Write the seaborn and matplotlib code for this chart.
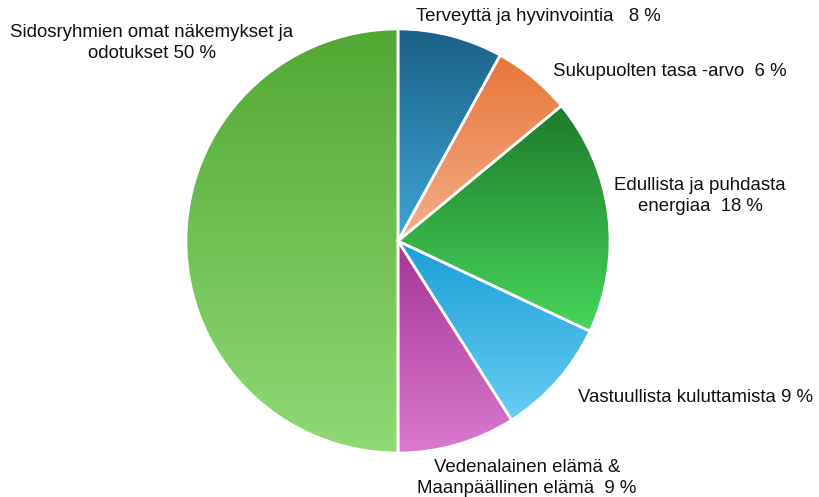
import numpy as np
import seaborn as sns
import matplotlib.pyplot as plt
from matplotlib.colors import LinearSegmentedColormap

# dati della torta
categorie = ["Terveyttä ja hyvinvointia", "Sukupuolten tasa -arvo",
             "Edullista ja puhdasta energiaa", "Vastuullista kuluttamista",
             "Vedenalainen elämä & Maanpäällinen elämä",
             "Sidosryhmien omat näkemykset ja odotukset"]
valori = [8, 6, 18, 9, 9, 50]
etichette = ["Terveyttä ja hyvinvointia   8 %",
             "Sukupuolten tasa -arvo  6 %",
             "Edullista ja puhdasta\nenergiaa  18 %",
             "Vastuullista kuluttamista 9 %",
             "Vedenalainen elämä &\nMaanpäällinen elämä  9 %",
             "Sidosryhmien omat näkemykset ja\nodotukset 50 %"]

# gradienti: colore in alto, colore in basso
colori_alto = ["#1b5f85", "#e8763a", "#1e7a2a", "#1a9fd6", "#a43594", "#52a833"]
colori_basso = ["#3ea6d6", "#f3ae88", "#47d65b", "#68cdf3", "#da7ad0", "#90d976"]

# posizione etichette in pixel (x, y dall'alto) e allineamento
pos_etichette = [(416, 16, "left"), (553, 71, "left"), (700, 196, "center"),
                 (578, 397, "left"), (527, 478, "center"), (152, 43, "center")]

sns.set_theme(style="white")
plt.rcParams["font.family"] = ["Liberation Sans", "DejaVu Sans"]

W, H = 819, 497
cx, cy, R = 398, 241, 212
fig = plt.figure(figsize=(W / 100, H / 100), dpi=100)
ax = fig.add_axes([0, 0, 1, 1])
xlim = (-cx / R, (W - cx) / R)
ylim = (-(H - cy) / R, cy / R)

wedges, _ = ax.pie(valori, startangle=90, counterclock=False, radius=1,
                   wedgeprops=dict(edgecolor="white", linewidth=1.9))

for w, c1, c2 in zip(wedges, colori_alto, colori_basso):
    w.set_facecolor("none")
    bb = w.get_path().get_extents(w.get_transform() - ax.transData)
    cmap = LinearSegmentedColormap.from_list("g", [c1, c2])
    grad = np.linspace(0, 1, 256).reshape(-1, 1)
    im = ax.imshow(grad, cmap=cmap, extent=(bb.x0, bb.x1, bb.y0, bb.y1),
                   origin="upper", aspect="auto", zorder=0.5)
    im.set_clip_path(w)
    w.set_zorder(2)

for (px, py, ha), testo in zip(pos_etichette, etichette):
    ax.text((px - cx) / R, (cy - py) / R, testo, ha=ha, va="center",
            fontsize=13.4, color="#111111", multialignment="center",
            linespacing=1.3)

ax.set_xlim(xlim)
ax.set_ylim(ylim)
ax.axis("off")
fig.savefig("out.png", dpi=100)
